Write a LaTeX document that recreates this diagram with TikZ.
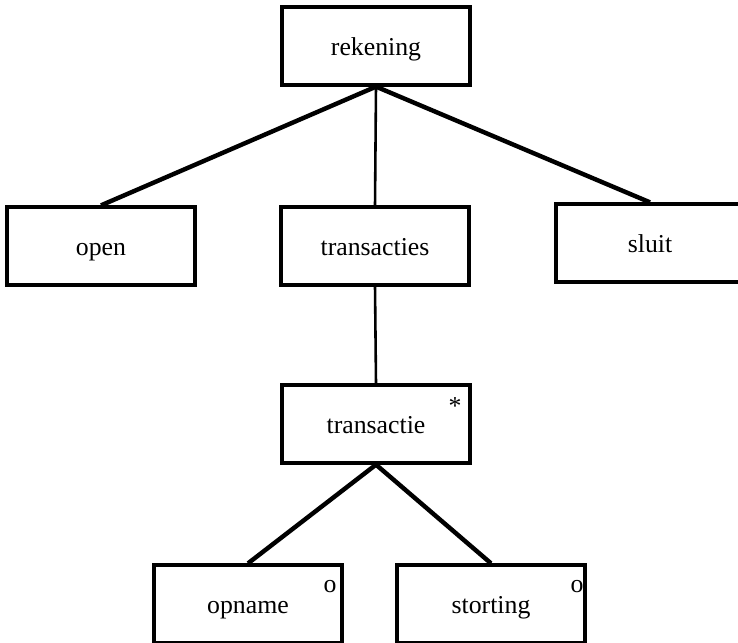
\documentclass[tikz,border=0pt]{standalone}
\usepackage{fontspec}
\setmainfont{Liberation Serif}
\usetikzlibrary{positioning}
\tikzstyle{entity}=[draw, line width=2.8pt, minimum width=5.64cm, minimum height=2.34cm, text height=20pt, text depth=4.6pt, font=\fontsize{22}{26}\selectfont]
\tikzstyle{link}=[line width=3.8pt]
\tikzstyle{stem}=[line width=2.2pt]
\tikzstyle{tag}=[inner sep=0pt, anchor=base, font=\fontsize{22}{26}\selectfont]

\begin{document}
\begin{tikzpicture}[x=0.03cm, y=-0.03cm]
        % 描画範囲 (ピクセル単位, y は下向き)
        \useasboundingbox (0,0) rectangle (738,642);

        % 一段目
        \node[entity] (rekening) at (376,46) {rekening};

        % 二段目
        \node[entity] (open) at (101,246) {open};
        \node[entity] (transacties) at (375,246) {transacties};
        \node[entity] (sluit) at (650,243) {sluit};

        % 三段目
        \node[entity] (transactie) at (376,424) {transactie};

        % 四段目
        \node[entity] (opname) at (248,604) {opname};
        \node[entity] (storting) at (491,604) {storting};

        % 繰り返し・選択の印
        \node[tag] (transactie-star) at (455,414) {*};
        \node[tag] (opname-o) at (330,592) {o};
        \node[tag] (storting-o) at (577,592) {o};

        % 枝
        \draw[link] (rekening.south) -- (open.north);
        \draw[stem] (rekening.south) -- (transacties.north);
        \draw[link] (rekening.south) -- (sluit.north);
        \draw[stem] (transacties.south) -- (transactie.north);
        \draw[link] (transactie.south) -- (opname.north);
        \draw[link] (transactie.south) -- (storting.north);
      \end{tikzpicture}
\end{document}
